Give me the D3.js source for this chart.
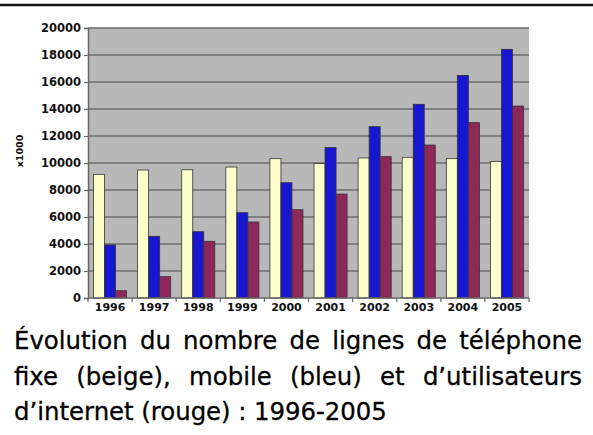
<!DOCTYPE html>
<html><head><meta charset="utf-8">
<script src="https://cdn.jsdelivr.net/npm/d3@7"></script>
<style>body{margin:0;background:#fff;} svg{display:block;}</style>
</head><body>
<svg id="c" width="593" height="435"></svg>
<script>
const years = ["1996","1997","1998","1999","2000","2001","2002","2003","2004","2005"];
const fixe    = [9160, 9480, 9500, 9700, 10320, 9970, 10370, 10420, 10320, 10120];
const mobile  = [3930, 4570, 4910, 6320, 8540, 11140, 12690, 14350, 16490, 18420];
const internet= [540, 1580, 4200, 5630, 6540, 7700, 10470, 11330, 12990, 14220];
const seriesNames = ["fixe","mobile","internet"];
const colors = ["#FFFFCC","#1717D2","#8E2858"];
const yTicks = [0,2000,4000,6000,8000,10000,12000,14000,16000,18000,20000];
const yLabel = "x1000";
const captionLines = [
  "Évolution du nombre de lignes de téléphone",
  "fixe (beige), mobile (bleu) et d’utilisateurs",
  "d’internet (rouge) : 1996-2005"
];

const svg = d3.select("#c");
const L=88, R=529, T=28, B=298;

svg.append("line").attr("x1",0).attr("x2",593).attr("y1",5).attr("y2",5)
  .attr("stroke","#111").attr("stroke-width",2.5);

const x0 = d3.scaleBand().domain(years).range([L,R]).paddingInner(0.25).paddingOuter(0.125);
const x1 = d3.scaleBand().domain(seriesNames).range([0,x0.bandwidth()]).padding(0);
const y = d3.scaleLinear().domain([0,20000]).range([B,T]);

svg.append("rect").attr("x",L).attr("y",T).attr("width",R-L).attr("height",B-T).attr("fill","#B8B8B8");
svg.append("line").attr("x1",L).attr("x2",R).attr("y1",T+0.5).attr("y2",T+0.5).attr("stroke","#a4a4a4").attr("stroke-width",1);

// gridlines
svg.append("g").selectAll("line").data(yTicks.filter(d=>d>0)).join("line")
  .attr("x1",L).attr("x2",R).attr("y1",d=>y(d)).attr("y2",d=>y(d))
  .attr("stroke","#6e6e6e").attr("stroke-width",1.6);

// y axis
const yAxis = svg.append("g").attr("transform",`translate(${L},0)`)
  .call(d3.axisLeft(y).tickValues(yTicks).tickSize(4).tickPadding(3).tickFormat(d3.format("d")));
yAxis.select(".domain").attr("stroke","#666").attr("stroke-width",1.5);
yAxis.selectAll(".tick line").attr("stroke","#666").attr("stroke-width",1.2);
yAxis.selectAll("text").attr("font-family","DejaVu Sans, Verdana, sans-serif").attr("font-weight","bold")
  .attr("font-size","11.5px").attr("fill","#111");

// bars
const data = years.map((yr,i)=>({yr, vals:[fixe[i],mobile[i],internet[i]]}));
const g = svg.append("g");
data.forEach(d=>{
  g.append("g").attr("transform",`translate(${x0(d.yr)},0)`)
   .selectAll("rect").data(d.vals.map((v,k)=>({v,k}))).join("rect")
   .attr("x",e=>x1(seriesNames[e.k])).attr("width",x1.bandwidth())
   .attr("y",e=>y(e.v)).attr("height",e=>B-y(e.v))
   .attr("fill",e=>colors[e.k]).attr("stroke","#333").attr("stroke-width",0.8);
});

// x axis
svg.append("line").attr("x1",L).attr("x2",R).attr("y1",B).attr("y2",B).attr("stroke","#666").attr("stroke-width",1.5);
const step = x0.step();
svg.append("g").selectAll("line").data(d3.range(years.length+1)).join("line")
  .attr("x1",i=>L+i*step).attr("x2",i=>L+i*step).attr("y1",B).attr("y2",B+4)
  .attr("stroke","#666").attr("stroke-width",1.2);
svg.append("g").selectAll("text").data(years).join("text")
  .attr("x",d=>x0(d)+x0.bandwidth()/2).attr("y",B+13).attr("text-anchor","middle")
  .attr("font-family","DejaVu Sans, Verdana, sans-serif").attr("font-weight","bold")
  .attr("font-size","11px").attr("fill","#111").text(d=>d);

svg.append("text").attr("transform","translate(23,151) rotate(-90)").attr("text-anchor","middle")
  .attr("font-family","DejaVu Sans, Verdana, sans-serif").attr("font-weight","bold")
  .attr("font-size","9.5px").attr("fill","#111").text(yLabel);

// caption, justified; horizontal scale chosen so line 1 words fill like the reference
const capFont = "'DejaVu Sans', sans-serif";
const baselines = [349, 385, 420];
const capL = 14, capR = 582;
const fs = 25;
const w1words = d3.sum(captionLines[0].split(" "), w=>{
  const p = svg.append("text").attr("font-family",capFont).attr("font-size",fs+"px").text(w);
  const l = p.node().getComputedTextLength(); p.remove(); return l; });
const sx = 495 / w1words;
captionLines.forEach((line,li)=>{
  const words = line.split(" ");
  const t = svg.append("g");
  const nodes = words.map(w=>t.append("text").attr("font-family",capFont).attr("font-size",fs+"px")
    .attr("fill","#000").attr("stroke","#000").attr("stroke-width",0.3).text(w));
  const widths = nodes.map(n=>n.node().getComputedTextLength()*sx);
  const total = d3.sum(widths);
  let gap = (li<2) ? (capR-capL-total)/(words.length-1) : fs*0.3;
  let xx = capL;
  nodes.forEach((n,k)=>{ n.attr("transform",`translate(${xx},${baselines[li]}) scale(${sx},1)`); xx += widths[k]+gap; });
});
</script>
</body></html>
